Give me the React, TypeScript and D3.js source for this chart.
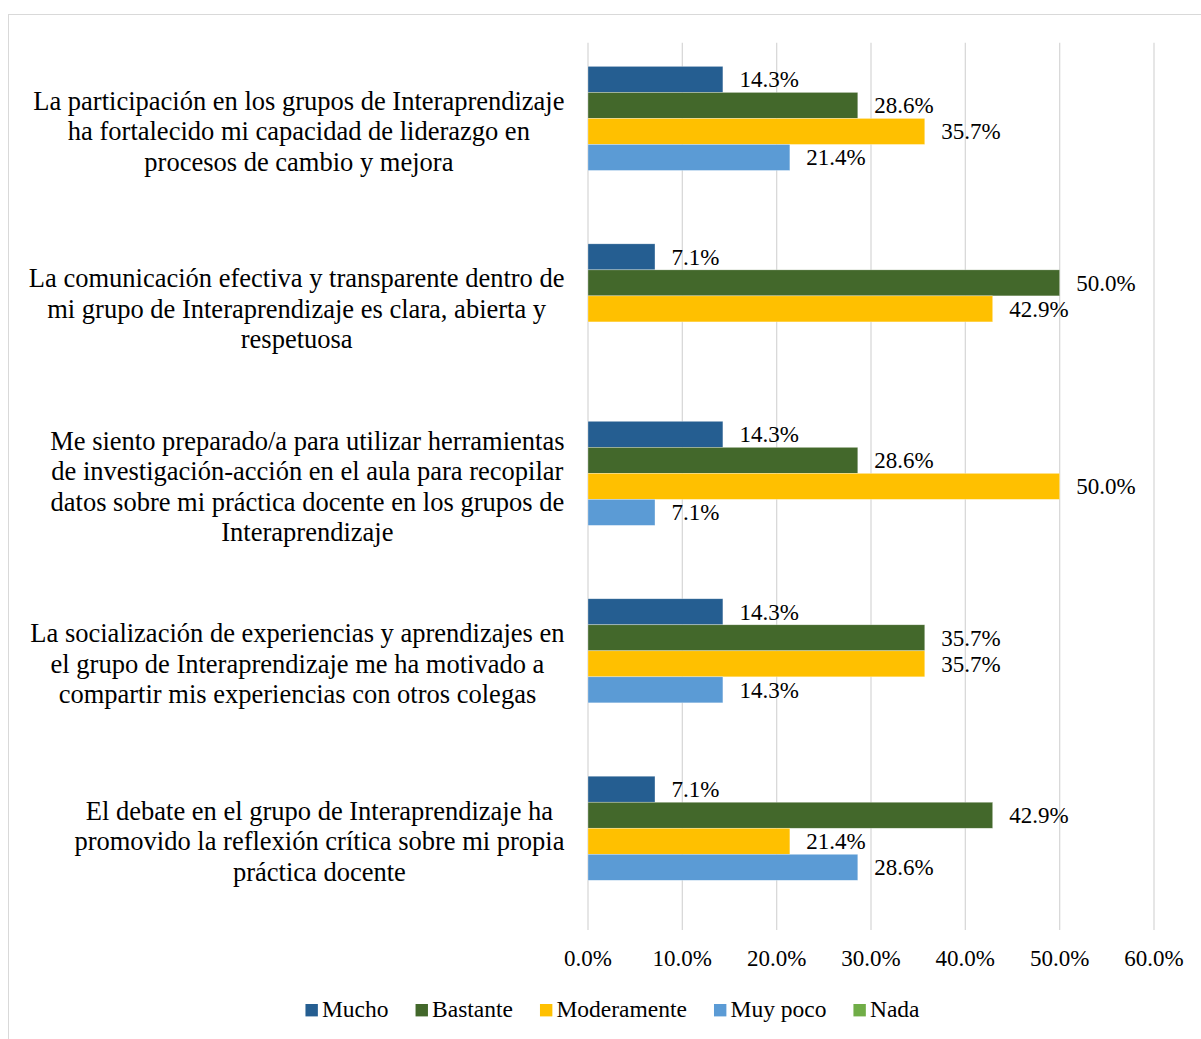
import React, { useEffect, useRef } from "react";
import * as d3 from "d3";

const categories: string[] = [
  "La participación en los grupos de Interaprendizaje\nha fortalecido mi capacidad de liderazgo en\nprocesos de cambio y mejora",
  "La comunicación efectiva y transparente dentro de\nmi grupo de Interaprendizaje es clara, abierta y\nrespetuosa",
  "Me siento preparado/a para utilizar herramientas\nde investigación-acción en el aula para recopilar\ndatos sobre mi práctica docente en los grupos de\nInteraprendizaje",
  "La socialización de experiencias y aprendizajes en\nel grupo de Interaprendizaje me ha motivado a\ncompartir mis experiencias con otros colegas",
  "El debate en el grupo de Interaprendizaje ha\npromovido la reflexión crítica sobre mi propia\npráctica docente",
];

const seriesNames: string[] = ["Mucho", "Bastante", "Moderamente", "Muy poco", "Nada"];
const seriesColors: string[] = ["#255E91", "#43682B", "#FFC000", "#5B9BD5", "#70AD47"];

const mucho: number[] = [14.3, 7.1, 14.3, 14.3, 7.1];
const bastante: number[] = [28.6, 50.0, 28.6, 35.7, 42.9];
const moderamente: number[] = [35.7, 42.9, 50.0, 35.7, 21.4];
const muyPoco: number[] = [21.4, 0, 7.1, 14.3, 28.6];
const nada: number[] = [0, 0, 0, 0, 0];

const xTicks: number[] = [0, 10, 20, 30, 40, 50, 60];

const W = 1201;
const H = 1039;
const FONT = "'Liberation Serif', 'Times New Roman', serif";

export default function App() {
  const ref = useRef<SVGSVGElement | null>(null);

  useEffect(() => {
    const svg = d3.select(ref.current);
    svg.selectAll("*").remove();

    const values = [mucho, bastante, moderamente, muyPoco, nada];

    // chart border
    svg.append("rect")
      .attr("x", 8.5).attr("y", 14.5)
      .attr("width", 1208).attr("height", 1040)
      .attr("fill", "#fff").attr("stroke", "#d9d9d9").attr("stroke-width", 1);

    const x = d3.scaleLinear().domain([0, 60]).range([588, 1154]);
    const y = d3.scaleBand<number>().domain(d3.range(categories.length)).range([42.7, 930]).padding(0);
    const bw = y.bandwidth();
    const gapRatio = 1.82;
    const barH = bw / (seriesNames.length + gapRatio);
    const outer = (bw - barH * seriesNames.length) / 2;
    const sub = d3.scaleBand<number>().domain(d3.range(seriesNames.length)).range([outer, bw - outer]).padding(0);

    // gridlines
    svg.append("g").selectAll("line").data(xTicks).join("line")
      .attr("x1", (d) => x(d)).attr("x2", (d) => x(d))
      .attr("y1", 42.7).attr("y2", 930)
      .attr("stroke", "#d9d9d9").attr("stroke-width", 1.3);

    // tick labels
    svg.append("g").selectAll("text").data(xTicks).join("text")
      .attr("x", (d) => x(d)).attr("y", 965.5)
      .attr("text-anchor", "middle")
      .attr("font-family", FONT).attr("font-size", 23).attr("fill", "#000")
      .text((d) => d3.format(".1f")(d) + "%");

    // bars
    const g = svg.append("g");
    categories.forEach((_, ci) => {
      values.forEach((arr, si) => {
        const v = arr[ci];
        const by = (y(ci) as number) + (sub(si) as number);
        if (v > 0) {
          g.append("rect")
            .attr("x", x(0)).attr("y", by)
            .attr("width", x(v) - x(0)).attr("height", sub.bandwidth())
            .attr("fill", seriesColors[si])
            .attr("stroke", "#ffffff").attr("stroke-opacity", 0.5).attr("stroke-width", 0.6);
          g.append("text")
            .attr("x", x(v) + 16.5).attr("y", by + sub.bandwidth() / 2 + 8)
            .attr("font-family", FONT).attr("font-size", 23).attr("fill", "#000")
            .text(d3.format(".1f")(v) + "%");
        }
      });
    });

    // category labels: block right-aligned at 564.5, lines centred within block
    const lineH = 30.5;
    const rightEdge = 564.5;
    categories.forEach((c, ci) => {
      const lines = c.split("\n");
      const cy = (y(ci) as number) + bw / 2;
      const t = svg.append("text")
        .attr("font-family", FONT).attr("font-size", 26.5).attr("fill", "#000")
        .attr("text-anchor", "middle");
      const spans = lines.map((ln, li) =>
        t.append("tspan")
          .attr("y", cy + (li - (lines.length - 1) / 2) * lineH + 9)
          .text(ln)
      );
      const maxW = d3.max(spans, (s) => (s.node() as SVGTSpanElement).getComputedTextLength()) || 0;
      spans.forEach((s) => s.attr("x", rightEdge - maxW / 2));
    });

    // legend
    const lg = svg.append("g");
    const items = seriesNames.map((name, i) => {
      const it = lg.append("g");
      it.append("rect").attr("x", 0).attr("y", -12.5).attr("width", 12.4).attr("height", 12.4).attr("fill", seriesColors[i]);
      const tx = it.append("text").attr("x", 16.5).attr("y", 0)
        .attr("font-family", FONT).attr("font-size", 23.5).attr("fill", "#000").text(name);
      const w = (tx.node() as SVGTextElement).getComputedTextLength();
      return { it, w: 16.5 + w };
    });
    const spacing = 27;
    const total = d3.sum(items, (d) => d.w) + spacing * (items.length - 1);
    let cx = 612.5 - total / 2;
    items.forEach((d) => {
      d.it.attr("transform", `translate(${cx},1016.5)`);
      cx += d.w + spacing;
    });
  }, []);

  return (
    <svg ref={ref} width={W} height={H} style={{ position: "absolute", left: 0, top: 0, background: "#fff" }} />
  );
}
